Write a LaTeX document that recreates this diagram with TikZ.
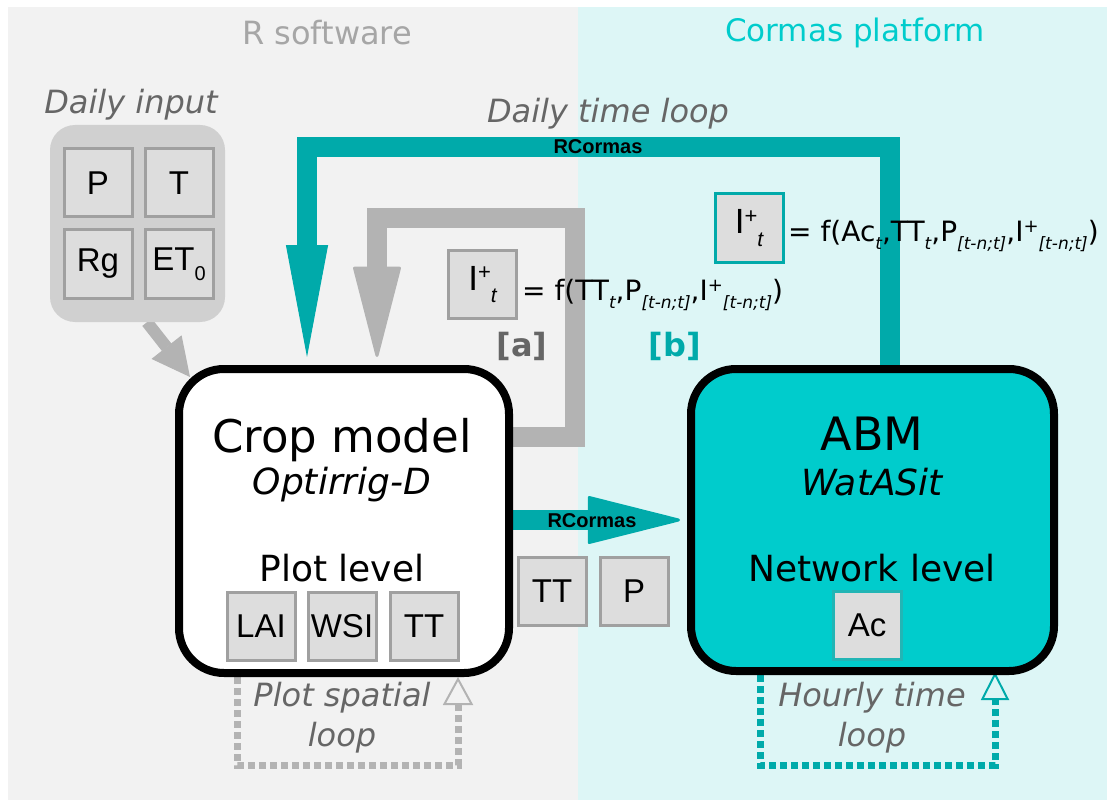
\documentclass[tikz,border=0pt]{standalone}
\usepackage{fontspec}
\setmainfont{DejaVu Sans}
\newfontfamily\arialf{Liberation Sans}
\usetikzlibrary{arrows.meta}
\definecolor{bgA}{HTML}{F2F2F2}
\definecolor{bgB}{HTML}{DDF6F6}
\definecolor{tealD}{HTML}{00AAAA}
\definecolor{tealL}{HTML}{00CCCC}
\definecolor{greyA}{HTML}{B3B3B3}
\definecolor{greyT}{HTML}{A6A6A6}
\definecolor{txtgrey}{HTML}{666666}
\definecolor{boxfill}{HTML}{DDDDDD}
\definecolor{boxline}{HTML}{A0A0A0}
\definecolor{inpfill}{HTML}{D0D0D0}
\definecolor{acline}{HTML}{22B5B5}
\newcommand\fs[1]{\fontsize{#1}{#1}\selectfont}
\newcommand\sbx[1]{\raisebox{-0.3em}{\fs{17}\itshape #1}}
\newcommand\spx[1]{\raisebox{0.32em}{\fs{18}#1}}
\pgfdeclarelayer{bg}
\pgfdeclarelayer{mid}
\pgfsetlayers{bg,mid,main}
\begin{document}
\begin{tikzpicture}[x=1pt,y=-1pt,
  sbox/.style={draw=boxline, fill=boxfill, line width=3pt, minimum width=68pt, minimum height=68pt, inner sep=0pt, font=\arialf\fs{33}},
  bigbox/.style={draw=black, line width=8pt, rounded corners=45pt, inner sep=0pt},
  lbl/.style={font=\fontsize{32}{40}\selectfont\itshape, text=txtgrey, align=center},
  rclbl/.style={font=\arialf\bfseries\fs{20}, text=black, inner sep=0pt},
  greyloop/.style={draw=greyA, line width=20pt},
  tealloop/.style={draw=tealD, line width=20pt},
  dotloop/.style={line width=7pt, dash pattern=on 7pt off 4pt},
]
\useasboundingbox (0,0) rectangle (1107,802);
\begin{pgfonlayer}{bg}
\fill[bgA] (8,7) rectangle (578,800);
\fill[bgB] (578,7) rectangle (1107,800);
\end{pgfonlayer}

% titles
\node[font=\fs{32}, text=greyT] (rsoft) at (327,33) {R software};
\node[font=\fs{31}, text=tealL] (cormas) at (855,33) {Cormas platform};

% daily input
\node[lbl] (din) at (131,105) {Daily input};
\node[fill=inpfill, rounded corners=25pt, minimum width=175pt, minimum height=197pt, inner sep=0pt] (inp) at (137.5,223.5) {};
\node[sbox] (bP) at (98,183) {P};
\node[sbox] (bT) at (179,183) {T};
\node[sbox] (bRg) at (98,264) {Rg};
\node[sbox] (bET) at (179,264) {ET\raisebox{-0.3em}{\fs{20}0}};

% crop model
\node[bigbox, fill=white, minimum width=330pt, minimum height=304pt] (crop) at (344,521) {};
\node[font=\fs{45}] (cropT) at (342,440) {Crop model};
\node[font=\fs{36}\itshape] (cropS) at (342,485) {Optirrig-D};
\node[font=\fs{36}] (cropL) at (342,568) {Plot level};
\node[sbox] (bLAI) at (261,626) {LAI};
\node[sbox] (bWSI) at (342,626) {WSI};
\node[sbox] (bTT) at (424,626) {TT};

% ABM
\node[bigbox, fill=tealL, minimum width=363pt, minimum height=302pt] (abm) at (872.5,520) {};
\node[font=\fs{46}] (abmT) at (872,434) {ABM};
\node[font=\fs{36}\itshape] (abmS) at (872,482) {WatASit};
\node[font=\fs{36}] (abmL) at (872,568) {Network level};
\node[sbox, draw=acline] (bAc) at (867,625) {Ac};

% exchanged variables
\node[sbox] (xTT) at (552,591) {TT};
\node[sbox] (xP) at (634,591) {P};

% formulas
\node[sbox] (ia) at (482.5,284.5) {\fs{35}I\raisebox{0.3em}{\fs{22}+}\raisebox{-0.36em}{\fs{21}\itshape t}};
\node[anchor=base west, inner sep=0pt, font=\fs{28}] (fa) at (522,300) {= f(TT\sbx{t},P\sbx{[t-n;t]},I\spx{+}\sbx{[t-n;t]})};
\node[sbox, draw=tealD] (ib) at (749,228) {\fs{35}I\raisebox{0.3em}{\fs{22}+}\raisebox{-0.36em}{\fs{21}\itshape t}};
\node[anchor=base west, inner sep=0pt, font=\fs{28}] (fb) at (788,241) {= f(Ac\sbx{t},TT\sbx{t},P\sbx{[t-n;t]},I\spx{+}\sbx{[t-n;t]})};

\node[font=\fs{32}\bfseries, text=txtgrey] (la) at (522,346) {[a]};
\node[font=\fs{32}\bfseries, text=tealD] (lb) at (675,346) {[b]};

% loop labels
\node[lbl] (dtl) at (608,114) {Daily time loop};
\node[lbl] (psl) at (342,718) {Plot spatial\\loop};
\node[lbl] (htl) at (872,718) {Hourly time\\loop};

% coordinates
\coordinate (aTip) at (377,357);
\coordinate (bTip) at (307,357);
\coordinate (inTip) at (190,377);
\coordinate (mTip) at (680,520);
\coordinate (pTip) at (458,677);
\coordinate (hTip) at (995,672);

\begin{pgfonlayer}{mid}
\draw[greyloop, -{Triangle[length=95pt,width=48pt,line width=3pt,round]}]
  (crop.east |- 0,437) -- (575,437) -- (575,218) -- (377,218) -- (aTip);
\draw[tealloop, -{Triangle[length=112pt,width=42pt,line width=1pt]}]
  (abm.north -| 890,0) -- (890,147) -- (307,147) -- (bTip);
\draw[draw=tealD, line width=20pt, -{Triangle[length=97pt,width=48pt,line width=3pt,round]}]
  (crop.east |- 0,520) -- (mTip);
\draw[draw=greyA, line width=12pt, -{Triangle[length=38pt,width=38pt,line width=1pt]}]
  (inp.south -| 147,0) -- (inTip);
\draw[dotloop, draw=greyA, -{Triangle[open,length=28pt,width=30pt,line width=2pt]}]
  (crop.south -| 237,0) -- (237,765) -- (458,765) -- (pTip);
\draw[dotloop, draw=tealD, -{Triangle[open,length=28pt,width=28pt,line width=2pt]}]
  (abm.south -| 760,0) -- (760,765) -- (995,765) -- (hTip);
\end{pgfonlayer}

\node[rclbl] (rc1) at (598,147) {RCormas};
\node[rclbl] (rc2) at (592,521) {RCormas};
\end{tikzpicture}
\end{document}
